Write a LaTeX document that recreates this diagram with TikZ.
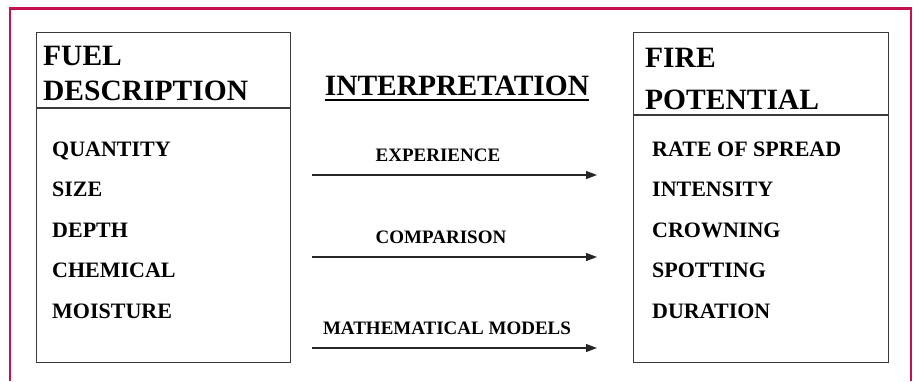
\documentclass[tikz,border=0pt]{standalone}
\usepackage{fontspec}
\setmainfont{Liberation Serif}
\usetikzlibrary{arrows.meta,positioning}
\definecolor{frameRed}{HTML}{C8104E}
\definecolor{boxGray}{HTML}{3A3A3A}

\begin{document}
\begin{tikzpicture}[x=1pt,y=-1pt,
    panel/.style={draw=boxGray, line width=1.1pt, minimum height=330pt,
                  inner sep=0pt, anchor=north west},
    headtext/.style={font=\bfseries\fontsize{29.5}{35}\selectfont, anchor=base west, inner sep=0pt},
    itemtext/.style={font=\bfseries\fontsize{22}{26}\selectfont, anchor=base west, inner sep=0pt},
    waytext/.style={font=\bfseries\fontsize{19}{22}\selectfont, anchor=base, inner sep=0pt},
    flow/.style={-{Triangle[length=11pt,width=8pt]}, line width=1.2pt, black!85}
  ]
  \useasboundingbox (0,0) rectangle (914,381);

  % outer frame, open at the bottom
  \draw[frameRed, line width=2.6pt] (10,381) -- (10,8.5) -- (911,8.5) -- (911,381);

  % the two boxes
  \node[panel, minimum width=254pt] (fuel) at (36,32) {};
  \node[panel, minimum width=255pt] (fire) at (633,32) {};
  \draw[boxGray, line width=1.1pt] (fuel.west |- 0,108) -- (fuel.east |- 0,108);
  \draw[boxGray, line width=1.1pt] (fire.west |- 0,115) -- (fire.east |- 0,115);

  % headings
  \node[headtext] (fuelhead) at (43,65) {FUEL};
  \node[headtext] (fueldesc) at (43,100) {DESCRIPTION};
  \node[headtext] (firehead) at (645,67) {FIRE};
  \node[headtext] (firepot) at (645,109) {POTENTIAL};

  \node[headtext, anchor=base] (interp) at (457,95) {INTERPRETATION};
  \draw[line width=1.8pt] ([yshift=-5pt]interp.base west) -- ([yshift=-5pt]interp.base east);

  % lists
  \foreach \word [count=\i] in {QUANTITY,SIZE,DEPTH,CHEMICAL,MOISTURE}
    \node[itemtext] (fuelitem\i) at (52,{156+40.5*(\i-1)}) {\word};
  \foreach \word [count=\i] in {RATE OF SPREAD,INTENSITY,CROWNING,SPOTTING,DURATION}
    \node[itemtext] (fireitem\i) at (652,{156+40.5*(\i-1)}) {\word};

  % the three ways
  \foreach \yy/\word/\xx [count=\i] in {175/EXPERIENCE/438,257/COMPARISON/441,348/MATHEMATICAL MODELS/447} {
    \coordinate (waystart\i) at (312,\yy);
    \coordinate (wayend\i) at (597,\yy);
    \draw[flow] (waystart\i) -- (wayend\i);
    \node[waytext] (way\i) at (\xx,{\yy-14}) {\word};
  }

\end{tikzpicture}
\end{document}
